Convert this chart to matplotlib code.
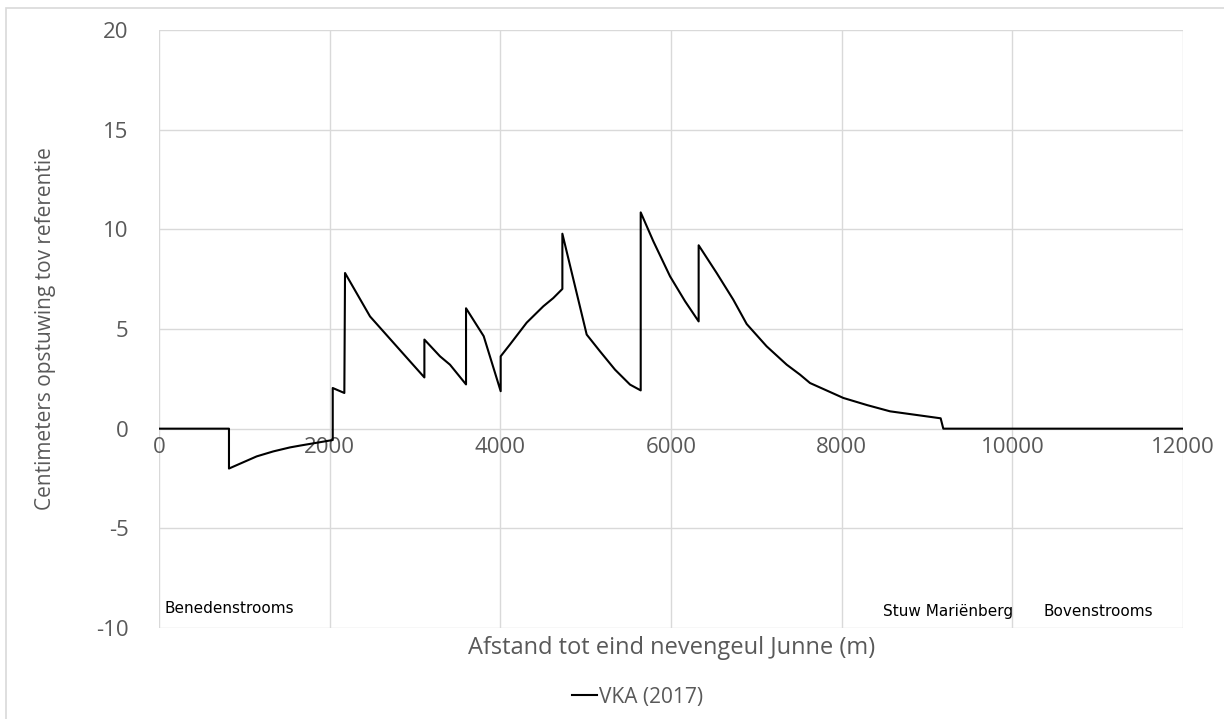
import numpy as np
from matplotlib import pyplot as plt
from matplotlib.patches import Rectangle

# distance (m) and rise (cm)
afstand = [0, 820, 820, 1145, 1340, 1535, 1652, 2036, 2036, 2172,
           2180, 2473, 2629, 2785, 2941, 3110, 3110, 3293, 3410, 3598,
           3598, 3805, 4004, 4004, 4114, 4309, 4504, 4620, 4727, 4727,
           5012, 5168, 5344, 5520, 5645, 5645, 5793, 5989, 6165, 6324,
           6324, 6535, 6730, 6887, 7121, 7356, 7512, 7629, 8020, 8300,
           8567, 9160, 9191, 12000]
opstuwing = [0, 0, -2.0, -1.39, -1.14, -0.94, -0.85, -0.57, 2.04, 1.79,
             7.81, 5.63, 4.88, 4.13, 3.38, 2.57, 4.47, 3.63, 3.21, 2.22,
             6.04, 4.64, 1.88, 3.63, 4.23, 5.32, 6.14, 6.55, 7.01, 9.78,
             4.72, 3.88, 2.96, 2.21, 1.92, 10.85, 9.40, 7.64, 6.39, 5.38,
             9.20, 7.81, 6.47, 5.25, 4.13, 3.21, 2.71, 2.29, 1.54, 1.18,
             0.87, 0.52, 0, 0]

labels = ["Benedenstrooms", "Stuw Mariënberg", "Bovenstrooms"]
label_x = [70, 8485, 10371]
label_y = [-9.03, -9.18, -9.18]

xticks = np.arange(0, 12001, 2000)
yticks = np.arange(-10, 21, 5)

grey = '#595959'
plt.rcParams['font.family'] = ['Open Sans', 'DejaVu Sans']
plt.rcParams['axes.unicode_minus'] = False

fig = plt.figure(figsize=(12.24, 7.19), dpi=100)
ax = fig.add_axes([159/1224, 1-628/719, 1024/1224, 598/719])

# chart-area border (Excel style)
fig.patches.append(Rectangle((6/1224, -0.1), 1.2, 1-8/719+0.1, transform=fig.transFigure,
                             fill=False, ec='#d9d9d9', lw=1.2))

ax.plot(afstand, opstuwing, color='black', lw=1.5, label='VKA (2017)')

ax.set_xlim(0, 12000)
ax.set_ylim(-10, 20)
ax.set_xticks(xticks)
ax.set_yticks(yticks)
ax.grid(True, color='#d9d9d9', lw=1)
ax.set_axisbelow(True)
for s in ax.spines.values():
    s.set_visible(False)
ax.spines['bottom'].set_position(('data', 0))
ax.tick_params(length=0, labelsize=16, labelcolor=grey)
ax.tick_params(axis='y', pad=22)
ax.tick_params(axis='x', pad=6)

for t, xx, yy in zip(labels, label_x, label_y):
    ax.text(xx, yy, t, fontsize=11, va='center', ha='left',
            family=['Liberation Sans Narrow', 'DejaVu Sans'])

fig.text(672/1224, 1-648/719, 'Afstand tot eind nevengeul Junne (m)',
         ha='center', va='center', fontsize=17, color=grey)
fig.text(46/1224, 1-329/719, 'Centimeters opstuwing tov referentie',
         ha='center', va='center', rotation=90, fontsize=15, color=grey)

leg = fig.legend(loc='center', bbox_to_anchor=(638/1224, 1-697/719), frameon=False,
                 fontsize=15, handlelength=1.2, handletextpad=0.1)
for t in leg.get_texts():
    t.set_color(grey)

fig.savefig('out.png', dpi=100)
